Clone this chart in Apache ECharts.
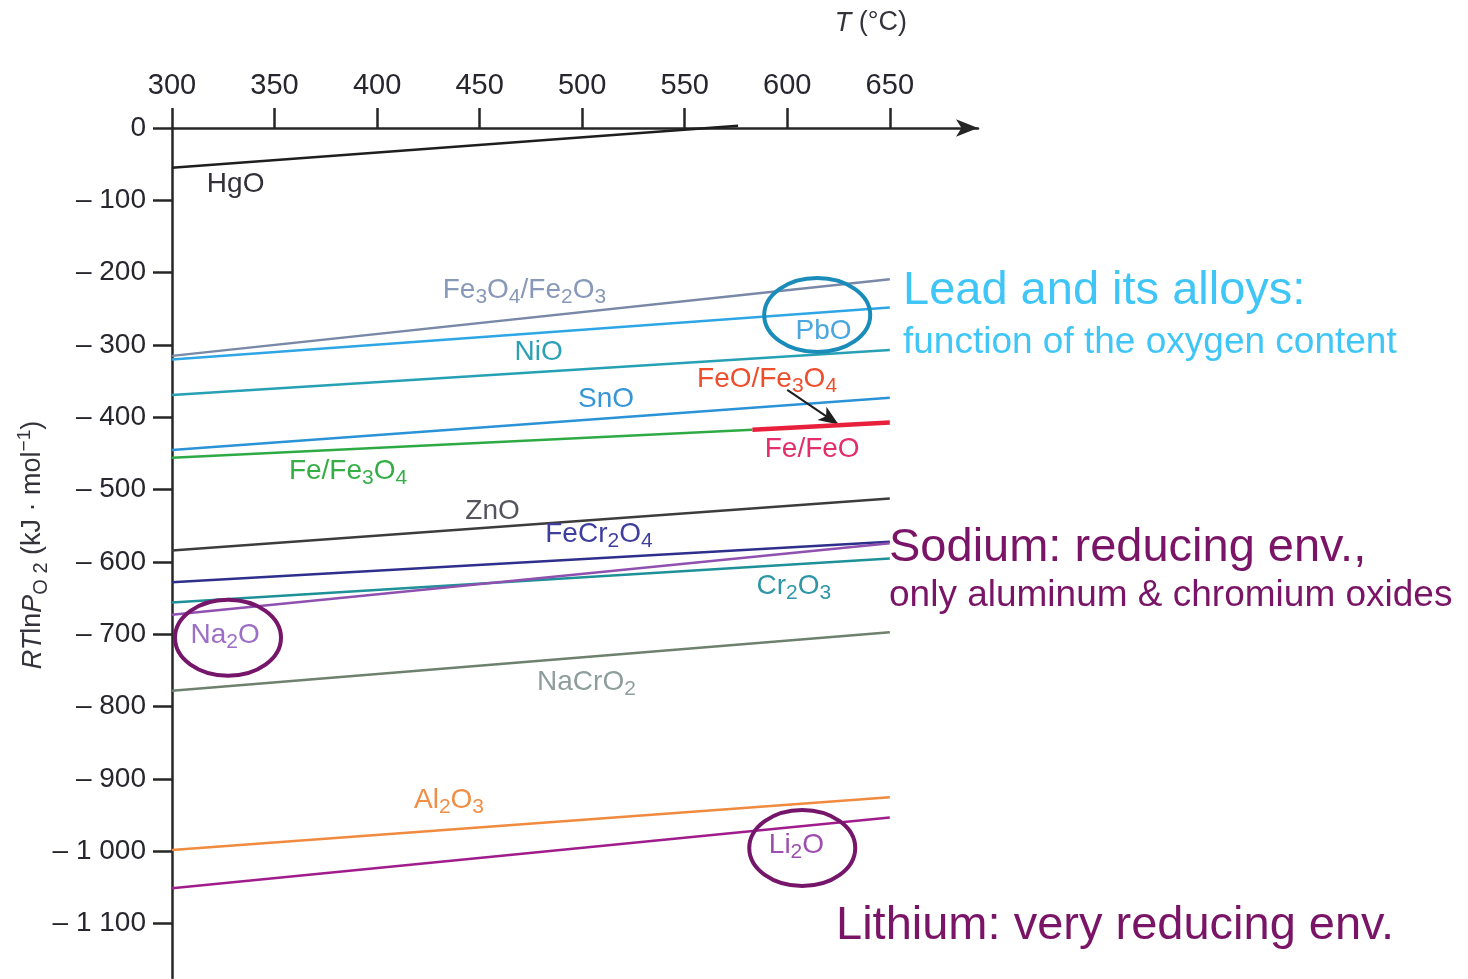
<!DOCTYPE html>
<html>
<head>
<meta charset="utf-8">
<script src="https://cdn.jsdelivr.net/npm/echarts@6/dist/echarts.min.js"></script>
<style>
html,body{margin:0;padding:0;background:#ffffff;}
#chart{width:1468px;height:979px;}
</style>
</head>
<body>
<div id="chart"></div>
<script>
// ---------- data ----------
const temperatureTicks = [300, 350, 400, 450, 500, 550, 600, 650];
const energyTicks = [0, -100, -200, -300, -400, -500, -600, -700, -800, -900, -1000, -1100];

// each line: [temperature °C, RT ln pO2 kJ/mol]
const HgO        = [[300, -55], [576, 3]];
const Fe3O4Fe2O3 = [[300, -315], [650, -209]];
const PbO        = [[300, -320], [650, -248]];
const NiO        = [[300, -369], [650, -307]];
const SnO        = [[300, -445], [650, -373]];
const FeFe3O4    = [[300, -456], [583, -417]];
const FeFeO      = [[583, -417], [650, -407]];
const ZnO        = [[300, -584], [650, -512]];
const FeCr2O4    = [[300, -628], [650, -572]];
const Cr2O3      = [[300, -656], [650, -595]];
const Na2O       = [[300, -673], [650, -574]];
const NaCrO2     = [[300, -778], [650, -697]];
const Al2O3      = [[300, -998], [650, -925]];
const Li2O       = [[300, -1051], [650, -953]];
const FeOFe3O4Arrow = [[600, -362], [625, -410]];

// ---------- layout / style ----------
const FONT = '"Liberation Sans", Arial, Helvetica, sans-serif';
const AXIS_COLOR = '#262626';
const TEXT_COLOR = '#26262e';

const lineDefs = [
  {name: 'HgO', data: HgO, color: '#1e1e1e', width: 2.5},
  {name: 'Fe3O4/Fe2O3', data: Fe3O4Fe2O3, color: '#7888a6', width: 2.5},
  {name: 'PbO', data: PbO, color: '#2ea6e6', width: 2.5},
  {name: 'NiO', data: NiO, color: '#26a0b4', width: 2.5},
  {name: 'SnO', data: SnO, color: '#2a92d6', width: 2.5},
  {name: 'Fe/Fe3O4', data: FeFe3O4, color: '#2eaa44', width: 2.5},
  {name: 'Fe/FeO', data: FeFeO, color: '#e8203c', width: 4.5},
  {name: 'ZnO', data: ZnO, color: '#3c3c3c', width: 2.5},
  {name: 'FeCr2O4', data: FeCr2O4, color: '#2e2e8c', width: 2.5},
  {name: 'Cr2O3', data: Cr2O3, color: '#1e9098', width: 2.5},
  {name: 'Na2O', data: Na2O, color: '#9050b0', width: 2.5},
  {name: 'NaCrO2', data: NaCrO2, color: '#6e806e', width: 2.5},
  {name: 'Al2O3', data: Al2O3, color: '#f08a3e', width: 2.5},
  {name: 'Li2O', data: Li2O, color: '#a01c8c', width: 2.5}
];

// label anchors in data space (left edge, vertical middle of main text)
const labelDefs = [
  {text: '{a|HgO}', at: [317, -78], color: '#33303a'},
  {text: '{a|Fe}{s|3}{a|O}{s|4}{a|/Fe}{s|2}{a|O}{s|3}', at: [432, -224], color: '#8898b8'},
  {text: '{a|PbO}', at: [604, -281], color: '#4aa6de'},
  {text: '{a|NiO}', at: [467, -310], color: '#2ea0b6'},
  {text: '{a|SnO}', at: [498, -375], color: '#3696d6'},
  {text: '{a|FeO/Fe}{s|3}{a|O}{s|4}', at: [556, -347], color: '#ee4e2c'},
  {text: '{a|Fe/FeO}', at: [589, -444], color: '#e42e6a'},
  {text: '{a|Fe/Fe}{s|3}{a|O}{s|4}', at: [357, -474], color: '#36ae46'},
  {text: '{a|ZnO}', at: [443, -530], color: '#55535c'},
  {text: '{a|FeCr}{s|2}{a|O}{s|4}', at: [482, -561], color: '#3e3e9e'},
  {text: '{a|Cr}{s|2}{a|O}{s|3}', at: [585, -633], color: '#2e96a6'},
  {text: '{a|Na}{s|2}{a|O}', at: [309, -701], color: '#9c6ec6'},
  {text: '{a|NaCrO}{s|2}', at: [478, -766], color: '#8e9e9c'},
  {text: '{a|Al}{s|2}{a|O}{s|3}', at: [418, -929], color: '#f08e46'},
  {text: '{a|Li}{s|2}{a|O}', at: [591, -991], color: '#9e4eae'}
];

const ellipseDefs = [
  {at: [614.6, -258.5], rx: 53, ry: 37, color: '#1a8cba'},
  {at: [327.3, -704.8], rx: 53, ry: 38, color: '#76166a'},
  {at: [607.3, -995.2], rx: 53, ry: 38, color: '#76166a'}
];

const chart = echarts.init(document.getElementById('chart'), null, {renderer: 'canvas'});

function fmtY(v) {
  if (v === 0) return '0';
  const a = Math.abs(v);
  const s = a >= 1000 ? Math.floor(a / 1000) + ' ' + String(a % 1000).padStart(3, '0') : String(a);
  return '\u2013 ' + s;
}

const series = lineDefs.map(d => ({
  name: d.name,
  type: 'line',
  data: d.data,
  showSymbol: false,
  symbol: 'none',
  silent: true,
  clip: false,
  animation: false,
  lineStyle: {color: d.color, width: d.width, cap: 'butt'},
  z: d.name === 'Fe/FeO' ? 5 : 3
}));

// arrow FeO/Fe3O4 -> Fe/FeO line
series.push({
  name: 'arrow',
  type: 'line',
  data: [],
  silent: true,
  animation: false,
  markLine: {
    silent: true,
    animation: false,
    symbol: ['none', 'arrow'],
    symbolSize: [12, 20],
    label: {show: false},
    lineStyle: {color: '#1e1e1e', width: 2, type: 'solid'},
    data: [[{coord: FeOFe3O4Arrow[0]}, {coord: FeOFe3O4Arrow[1]}]]
  }
});

chart.setOption({
  animation: false,
  backgroundColor: '#ffffff',
  grid: {left: 172, right: 490, top: 128, bottom: 1, containLabel: false},
  xAxis: {
    type: 'value',
    position: 'top',
    min: 300,
    max: 693,
    splitLine: {show: false},
    axisLine: {show: true, onZero: false, symbol: ['none', 'arrow'], symbolSize: [13, 22],
      lineStyle: {color: AXIS_COLOR, width: 2.5}},
    axisTick: {show: true, inside: false, length: 20, customValues: temperatureTicks,
      lineStyle: {color: AXIS_COLOR, width: 2.5}},
    axisLabel: {show: true, customValues: temperatureTicks, margin: 28,
      color: TEXT_COLOR, fontSize: 29, fontFamily: FONT}
  },
  yAxis: {
    type: 'value',
    min: -1175,
    max: 0,
    splitLine: {show: false},
    axisLine: {show: true, onZero: false, lineStyle: {color: AXIS_COLOR, width: 2.5}},
    axisTick: {show: true, inside: false, length: 19, customValues: energyTicks,
      lineStyle: {color: AXIS_COLOR, width: 2.5}},
    axisLabel: {show: true, customValues: energyTicks, margin: 26, formatter: fmtY,
      color: TEXT_COLOR, fontSize: 28, fontFamily: FONT}
  },
  series: series
});

function buildGraphics() {
  const g = [];
  labelDefs.forEach(l => {
    const p = chart.convertToPixel({gridIndex: 0}, l.at);
    g.push({
      type: 'text', silent: true, z: 10,
      x: p[0], y: p[1],
      style: {
        text: l.text, align: 'left', verticalAlign: 'middle',
        rich: {
          a: {fontSize: 28, fontFamily: FONT, fill: l.color, lineHeight: 36, verticalAlign: 'middle'},
          s: {fontSize: 21, fontFamily: FONT, fill: l.color, lineHeight: 14, verticalAlign: 'bottom'}
        }
      }
    });
  });
  ellipseDefs.forEach(e => {
    const p = chart.convertToPixel({gridIndex: 0}, e.at);
    g.push({
      type: 'ellipse', silent: true, z: 11,
      shape: {cx: p[0], cy: p[1], rx: e.rx, ry: e.ry},
      style: {fill: 'none', stroke: e.color, lineWidth: 4}
    });
  });
  // axis names
  g.push({
    type: 'text', silent: true, z: 10, x: 907, y: 23,
    style: {
      text: '{i|T}{n| (°C)}', align: 'right', verticalAlign: 'middle',
      rich: {
        i: {fontSize: 27, fontStyle: 'italic', fontFamily: FONT, fill: '#33333c'},
        n: {fontSize: 27, fontFamily: FONT, fill: '#33333c'}
      }
    }
  });
  g.push({
    type: 'text', silent: true, z: 10, x: 33, y: 545, rotation: Math.PI / 2,
    style: {
      text: '{i|RT}{n|ln}{i|P}{s|O 2}{n| (kJ · mol}{u|\u22121}{n|)}', align: 'center', verticalAlign: 'middle',
      rich: {
        i: {fontSize: 27, fontStyle: 'italic', fontFamily: FONT, fill: '#33333c', lineHeight: 36, verticalAlign: 'middle'},
        n: {fontSize: 27, fontFamily: FONT, fill: '#33333c', lineHeight: 36, verticalAlign: 'middle'},
        s: {fontSize: 20, fontFamily: FONT, fill: '#33333c', lineHeight: 14, verticalAlign: 'bottom'},
        u: {fontSize: 19, fontFamily: FONT, fill: '#33333c', lineHeight: 14, verticalAlign: 'top'}
      }
    }
  });
  // annotations
  const ann = [
    {text: 'Lead and its alloys:', x: 903, y: 291, size: 47, color: '#40c6f6'},
    {text: 'function of the oxygen content', x: 903, y: 343, size: 37, color: '#40c6f6'},
    {text: 'Sodium: reducing env.,', x: 889, y: 548, size: 47, color: '#7a1466'},
    {text: 'only aluminum & chromium oxides', x: 889, y: 596, size: 37, color: '#7a1466'},
    {text: 'Lithium: very reducing env.', x: 836, y: 926, size: 47, color: '#7a1466'}
  ];
  ann.forEach(a => g.push({
    type: 'text', silent: true, z: 12, x: a.x, y: a.y,
    style: {text: a.text, align: 'left', verticalAlign: 'middle', fontSize: a.size, fontFamily: FONT, fill: a.color}
  }));
  chart.setOption({graphic: g});
}
buildGraphics();
</script>
</body>
</html>
